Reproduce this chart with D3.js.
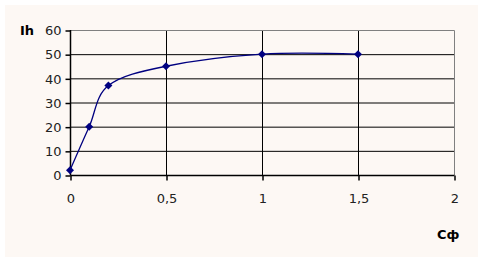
<!DOCTYPE html>
<html><head><meta charset="utf-8">
<script src="https://cdn.jsdelivr.net/npm/d3@7"></script>
<style>body{margin:0;background:#fff;}svg{display:block;}</style>
</head><body>
<svg id="c" width="482" height="261"></svg>
<script>
const xValues = [0, 0.1, 0.2, 0.5, 1, 1.5];
const yValues = [2, 20, 37, 45, 50, 50];
const xTicks = [0, 0.5, 1, 1.5, 2];
const xTickLabels = ["0", "0,5", "1", "1,5", "2"];
const yTicks = [0, 10, 20, 30, 40, 50, 60];
const yLabel = "Ih";
const xLabel = "Сф";

const svg = d3.select("#c");
svg.append("rect").attr("x",5).attr("y",5).attr("width",473).attr("height",252).attr("fill","#fdf8f4");

const L=70,R=454,T=30,B=175;
const x = d3.scaleLinear().domain([0,2]).range([L,R]);
const y = d3.scaleLinear().domain([0,60]).range([B,T]);
const font = "'DejaVu Sans', Verdana, sans-serif";

// grid
const g = svg.append("g");
yTicks.filter(v=>v>0 && v<60).forEach(v=>{
  g.append("line").attr("x1",L).attr("x2",R).attr("y1",y(v)+0.5).attr("y2",y(v)+0.5).attr("stroke","#000").attr("stroke-width",1);
});
xTicks.filter(v=>v>0 && v<2).forEach(v=>{
  g.append("line").attr("y1",T).attr("y2",B).attr("x1",Math.round(x(v))+0.5).attr("x2",Math.round(x(v))+0.5).attr("stroke","#000").attr("stroke-width",1);
});
// gray border top/right
g.append("path").attr("d",`M${L},${T+0.5}H${R+0.5}V${B}`).attr("fill","none").attr("stroke","#808080");

// axes
const yAxis = d3.axisLeft(y).tickValues(yTicks).tickSize(5).tickPadding(4).tickFormat(d=>d);
const ya = svg.append("g").attr("transform",`translate(${L+0.5},0.5)`).call(yAxis);
const xAxis = d3.axisBottom(x).tickValues(xTicks).tickSize(5).tickPadding(13).tickFormat((d,i)=>xTickLabels[i]);
const xa = svg.append("g").attr("transform",`translate(0.5,${B+0.5})`).call(xAxis);
[ya,xa].forEach(a=>{
  a.selectAll("path.domain").attr("stroke","#000").attr("stroke-width",1.5);
  a.selectAll(".tick line").attr("stroke","#000").attr("stroke-width",1.5);
  a.selectAll("text").attr("font-family",font).attr("font-size","13px").attr("fill","#222");
});
ya.select("path.domain").attr("d",`M0,${T-0.5}V${B}`);
xa.select("path.domain").attr("d",`M${L},0H${R}`);

// line
const pts = xValues.map((v,i)=>[v,yValues[i]]);
svg.append("path").datum(pts)
  .attr("d", d3.line().x(d=>x(d[0])).y(d=>y(d[1])).curve(d3.curveCatmullRom.alpha(0)))
  .attr("fill","none").attr("stroke","#000080").attr("stroke-width",1.3);
svg.selectAll("path.mk").data(pts).enter().append("path").attr("class","mk")
  .attr("d","M0,-4L4,0L0,4L-4,0Z")
  .attr("transform",d=>`translate(${x(d[0])},${y(d[1])})`)
  .attr("fill","#000080");

svg.append("text").attr("x",20).attr("y",35).attr("font-family",font).attr("font-weight","bold").attr("font-size","13px").attr("fill","#000").text(yLabel);
svg.append("text").attr("x",437).attr("y",239).attr("font-family",font).attr("font-weight","bold").attr("font-size","13px").attr("fill","#000").text(xLabel);
</script>
</body></html>
